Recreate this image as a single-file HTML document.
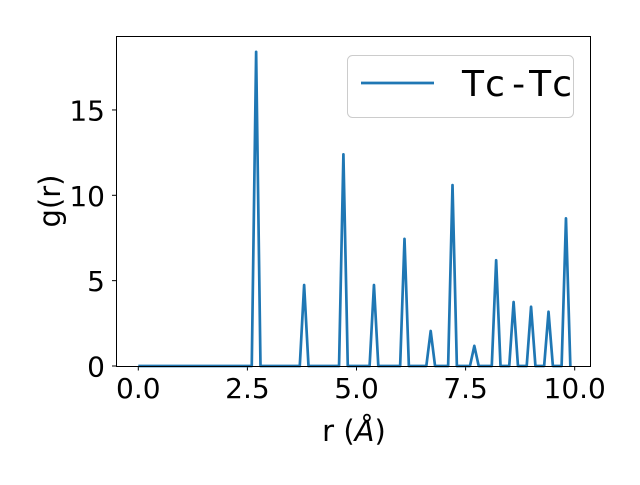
<!DOCTYPE html>
<html><head><meta charset="utf-8"><style>
body{margin:0;background:#fff;}
svg text{font-family:"DejaVu Sans","Liberation Sans",sans-serif;fill:#000;}
</style></head><body>
<svg width="640" height="480" viewBox="0 0 640 480">
<rect width="640" height="480" fill="#fff"/>
<g id="ticks"></g>
<polyline id="series" fill="none" stroke="#1f77b4" stroke-width="2.7" stroke-linejoin="round"/>
<rect x="116.5" y="36.5" width="474" height="330" fill="none" stroke="#000" stroke-width="1"/>
<text x="354" y="441" font-size="29" text-anchor="middle">r (<tspan font-style="italic">Å</tspan>)</text>
<text transform="translate(60,201) rotate(-90)" font-size="29" text-anchor="middle">g(r)</text>
<g>
<rect x="347.5" y="55.5" width="226" height="62" rx="5" fill="#fff" fill-opacity="0.8" stroke="#ccc"/>
<line x1="361" y1="83" x2="434" y2="83" stroke="#1f77b4" stroke-width="2.7"/>
<text x="462" y="96" font-size="36" textLength="110" lengthAdjust="spacing">Tc-Tc</text>
</g>
</svg>
<script>
const peakR = [2.7,3.8,4.7,5.4,6.1,6.7,7.2,7.7,8.2,8.6,9.0,9.4,9.8];
const peakG = [18.4,4.75,12.4,4.75,7.45,2.05,10.6,1.18,6.2,3.75,3.47,3.18,8.65];
const xTicks = [0,2.5,5,7.5,10];
const xTickLabels = ["0.0","2.5","5.0","7.5","10.0"];
const yTicks = [0,5,10,15];
const yTickLabels = ["0","5","10","15"];
const rGrid = [];
for(let i=0;i<=99;i++) rGrid.push(i/10);
const X = r => 138.3 + r*43.64;
const Y = g => 366 - g*17.07;
const gVals = rGrid.map(r=>{const k=peakR.findIndex(p=>Math.abs(p-r)<1e-6);return k>=0?peakG[k]:0;});
const line = document.getElementById('series');
line.setAttribute('points', rGrid.map((r,i)=>X(r).toFixed(2)+','+Y(gVals[i]).toFixed(2)).join(' '));
const NS='http://www.w3.org/2000/svg', tg=document.getElementById('ticks');
xTicks.forEach((t,i)=>{
 const l=document.createElementNS(NS,'line');
 
 
 l.setAttribute('x1',X(t));l.setAttribute('x2',X(t));l.setAttribute('y1',366);l.setAttribute('y2',370.5);l.setAttribute('stroke','#000');
 tg.appendChild(l);
 const tx=document.createElementNS(NS,'text');
 
 
 tx.setAttribute('x',X(t));tx.setAttribute('y',398);tx.setAttribute('font-size','28');tx.setAttribute('text-anchor','middle');
 tx.textContent=xTickLabels[i];tg.appendChild(tx);
});
yTicks.forEach((t,i)=>{
 const l=document.createElementNS(NS,'line');
 
 
 l.setAttribute('x1',112);l.setAttribute('x2',116.5);l.setAttribute('y1',Y(t));l.setAttribute('y2',Y(t));l.setAttribute('stroke','#000');
 tg.appendChild(l);
 const tx=document.createElementNS(NS,'text');
 
 
 tx.setAttribute('x',105);tx.setAttribute('y',Y(t)+10.5);tx.setAttribute('font-size','28');tx.setAttribute('text-anchor','end');
 tx.textContent=yTickLabels[i];tg.appendChild(tx);
});
</script>
</body></html>
